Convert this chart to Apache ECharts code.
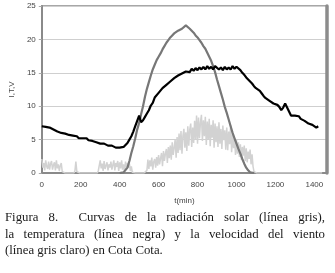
<!DOCTYPE html>
<html>
<head>
<meta charset="utf-8">
<script src="https://cdn.jsdelivr.net/npm/echarts@6/dist/echarts.min.js"></script>
<style>
  body { margin: 0; background: #fff; }
  .wrap { position: relative; width: 335px; height: 273px; }
  #chart { position: absolute; left: 0; top: 0; width: 335px; height: 273px; }
  .caption {
    position: absolute; left: 5px; top: 209px; width: 320px;
    font-family: "Liberation Serif", "Times New Roman", serif;
    font-size: 12.8px; line-height: 16.5px; color: #1a1a1a;
  }
  .caption div { white-space: nowrap; }
  .caption .j { text-align: justify; text-align-last: justify; }
</style>
</head>
<body>
<div class="wrap">
  <div id="chart"></div>
  <div class="caption">
    <div class="j">Figura 8.&nbsp; Curvas de la radiación solar (línea gris),</div>
    <div class="j">la temperatura (línea negra) y la velocidad del viento</div>
    <div>(línea gris claro) en Cota Cota.</div>
  </div>
</div>
<script>
// minutes 0..1440 every 10 min (temperature, radiation)
const minutes = [];
for (let t = 0; t <= 1440; t += 10) minutes.push(t);
// minutes 0..1440 every 5 min (wind)
const minutes5 = [];
for (let t = 0; t <= 1440; t += 5) minutes5.push(t);

const xTicks = [0, 200, 400, 600, 800, 1000, 1200, 1400];
const yTicks = [0, 5, 10, 15, 20, 25];

// temperature (black)
const temperatura = [
  7.0, 7.1, 6.9, 6.8, 6.8, 6.6, 6.5, 6.5, 6.2, 6.2,
  6.0, 5.9, 5.9, 5.7, 5.7, 5.5, 5.6, 5.4, 5.5, 5.2,
  5.4, 5.2, 5.1, 5.2, 4.9, 4.8, 4.8, 4.6, 4.6, 4.4,
  4.4, 4.3, 4.4, 4.2, 4.1, 4.0, 4.1, 3.9, 3.8, 3.9,
  3.8, 3.7, 3.9, 4.1, 4.5, 5.0, 5.5, 6.2, 7.0, 7.8,
  8.6, 7.6, 7.9, 8.4, 8.9, 9.4, 10.1, 10.5, 11.3, 11.5,
  12.0, 12.2, 12.7, 12.8, 13.2, 13.3, 13.7, 13.8, 14.2, 14.1,
  14.6, 14.5, 14.9, 14.9, 15.2, 15.3, 15.1, 15.6, 15.3, 15.7,
  15.4, 15.8, 15.5, 15.9, 15.5, 16.0, 15.6, 15.9, 15.5, 16.0,
  15.8, 15.5, 15.8, 15.4, 15.9, 15.5, 15.8, 15.5, 16.0, 15.6,
  15.9, 15.7, 15.4, 15.0, 14.7, 14.3, 14.0, 13.7, 13.4, 13.0,
  12.7, 12.5, 12.3, 11.9, 11.5, 11.2, 11.0, 10.8, 10.6, 10.4,
  10.3, 10.2, 9.9, 9.4, 9.8, 10.4, 10.2, 9.2, 8.6, 8.5,
  8.6, 8.8, 8.5, 8.1, 7.9, 7.8, 7.7, 7.4, 7.3, 7.2,
  7.0, 6.8, 7.0, null, null
];

// solar radiation (grey)
const radiacion = [
  null, null, null, null, null, null, null, null, null, null,
  null, null, null, null, null, null, null, null, null, null,
  null, null, null, null, null, null, null, null, null, null,
  null, null, null, null, null, null, null, null, null, null,
  0, 0, 0.1, 0.3, 0.8, 1.8, 3.0, 4.0, 5.2, 6.5,
  7.5, 8.8, 10.0, 11.4, 12.6, 13.6, 14.6, 15.5, 16.2, 16.9,
  17.4, 17.9, 18.5, 19.0, 19.5, 19.9, 20.3, 20.6, 20.9, 21.0,
  21.3, 21.5, 21.6, 21.8, 22.1, 21.9, 21.6, 21.4, 21.0, 20.6,
  20.3, 19.9, 19.5, 19.0, 18.6, 18.0, 17.4, 16.8, 16.0, 15.1,
  14.0, 13.0, 12.0, 11.0, 9.9, 9.0, 8.0, 7.0, 6.0, 5.2,
  4.4, 3.6, 2.9, 2.1, 1.4, 0.8, 0.4, 0.1, 0, 0,
  null, null, null, null, null, null, null, null, null, null,
  null, null, null, null, null, null, null, null, null, null,
  null, null, null, null, null, null, null, null, null, null,
  null, null, null, null, null
];

// wind speed (light grey), 5-min steps
const viento = [
  2.1, 0.8, 1.5, 0.4, 1.9, 1.0, 0.6, 1.7, 0.5, 1.4,
  1.8, 0.5, 1.2, 1.6, 0.4, 1.9, 0.7, 1.3, 0.3, 1.1,
  1.5, 0.2, 0, 0, 0, 0, 0, 0, 0, 0,
  0, 0, 0, 0, 0.3, 1.7, 0.2, 0, 0, 0,
  0, 0, 0, 0, 0, 0, 0, 0, 0, 0,
  0, 0, 0, 0, 0, 0, 0, 0, 0.3, 0.1,
  1.9, 0.7, 1.4, 0.3, 1.8, 0.6, 1.1, 1.6, 0.4, 1.3,
  0.8, 1.7, 0.5, 1.2, 1.9, 0.4, 1.5, 0.9, 1.8, 0.3,
  1.6, 0.7, 1.9, 0.5, 1.3, 0.2, 1.7, 0.6, 1.5, 0.8,
  1.4, 0.3, 1.0, 0.1, 0, 0, 0, 0, 0, 0,
  0, 0, 0, 0, 0, 0, 0, 0, 0.4, 2.0,
  0.6, 1.9, 1.0, 2.3, 0.5, 1.7, 2.1, 0.8, 2.4, 1.1,
  2.7, 1.3, 2.2, 3.0, 1.0, 3.3, 1.8, 2.9, 3.6, 1.5,
  3.9, 2.2, 4.1, 2.0, 4.6, 2.7, 3.8, 5.0, 2.3, 5.4,
  3.0, 5.9, 3.4, 6.3, 2.9, 5.6, 6.6, 3.8, 6.1, 3.3,
  7.0, 4.1, 6.5, 7.4, 3.9, 6.8, 4.5, 7.8, 5.0, 8.6,
  4.4, 8.3, 5.2, 7.6, 8.7, 4.8, 7.9, 5.5, 8.4, 4.2,
  7.7, 5.0, 8.1, 4.0, 7.2, 5.3, 7.9, 3.8, 7.4, 4.6,
  7.0, 3.9, 7.6, 4.4, 6.6, 3.6, 7.1, 4.9, 6.4, 3.5,
  6.8, 3.4, 6.2, 4.3, 7.2, 3.1, 5.8, 3.7, 5.2, 2.7,
  5.0, 2.9, 4.6, 2.4, 4.3, 2.0, 3.9, 2.6, 4.1, 1.8,
  3.7, 1.6, 3.2, 2.1, 3.5, 1.3, 2.8, 1.0, 0.2, 0,
  0, 0, 0, 0, 0, 0, 0, 0, 0, 0,
  0, 0, 0, 0, 0, 0, 0, 0, 0, 0,
  0, 0, 0, 0, 0, 0, 0, 0, 0, 0,
  0, 0, 0, 0, 0, 0, 0, 0, 0, 0,
  0, 0, 0, 0, 0, 0, 0, 0, 0, 0,
  0, 0, 0, 0, 0, 0, 0, 0, 0, 0,
  0, 0, 0, 0, 0, 0, 0, 0, 0
];

function pairs(times, values) {
  return times.map((t, i) => [t, values[i]]).filter(p => p[1] !== null && p[1] !== undefined);
}

const chart = echarts.init(document.getElementById('chart'));
const labelFont = { fontFamily: 'Liberation Sans, Arial, sans-serif', fontSize: 8, color: '#444' };

chart.setOption({
  animation: false,
  grid: {
    left: 33, right: 8, top: 6, bottom: 100,
    show: true, borderColor: '#8a8a8a', borderWidth: 1.5
  },
  xAxis: {
    type: 'value',
    min: 0, max: 1465, interval: 200,
    name: 't(min)', nameLocation: 'middle', nameGap: 24,
    nameTextStyle: labelFont,
    axisLine: { show: true, lineStyle: { color: '#8a8a8a', width: 2 } },
    axisTick: { show: false },
    splitLine: { show: false },
    axisLabel: Object.assign({ margin: 8, showMaxLabel: false,
      formatter: v => xTicks.includes(v) ? String(v) : '' }, labelFont)
  },
  yAxis: [{
    type: 'value',
    min: 0, max: 25, interval: 5,
    name: 'I,T,V', nameLocation: 'middle', nameGap: 24,
    nameTextStyle: labelFont,
    axisLine: { show: true, lineStyle: { color: '#8a8a8a', width: 2 } },
    axisTick: { show: true, length: 3, lineStyle: { color: '#aaa' } },
    splitLine: { lineStyle: { color: '#cfcfcf', width: 1 } },
    axisLabel: Object.assign({ margin: 6,
      formatter: v => yTicks.includes(v) ? String(v) : '' }, labelFont)
  }, {
    type: 'value', position: 'right',
    min: 0, max: 25,
    axisLine: { show: true, lineStyle: { color: '#8c8c8c', width: 3.5 } },
    axisTick: { show: false }, axisLabel: { show: false }, splitLine: { show: false }
  }],
  series: [
    {
      name: 'viento', type: 'line', data: pairs(minutes5, viento),
      showSymbol: false, lineStyle: { color: '#d2d2d2', width: 1.5 }, z: 2
    },
    {
      name: 'radiacion', type: 'line', data: pairs(minutes, radiacion),
      showSymbol: false, lineStyle: { color: '#777', width: 2.2 }, z: 3
    },
    {
      name: 'temperatura', type: 'line', data: pairs(minutes, temperatura),
      showSymbol: false, lineStyle: { color: '#000', width: 2.2 }, z: 4
    }
  ]
});
</script>
</body>
</html>
